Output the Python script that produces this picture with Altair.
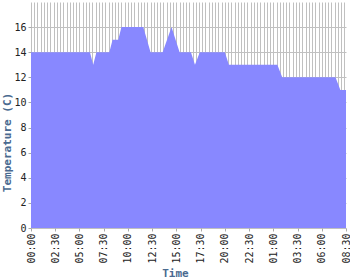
import altair as alt
import pandas as pd

# Temperature readings (breakpoints of the curve); day 1 then day 2
times = [
    "00:00", "06:05", "06:25", "06:45",
    "08:05", "08:25", "09:00", "09:20",
    "11:35", "12:20", "13:35", "14:30",
    "14:50", "15:20", "16:30", "16:55",
    "17:25", "20:00", "20:25", "01:25",
    "01:55", "07:25", "07:55", "08:30",
]
days = [
    1, 1, 1, 1,
    1, 1, 1, 1,
    1, 1, 1, 1,
    1, 1, 1, 1,
    1, 1, 1, 2,
    2, 2, 2, 2,
]
temps = [
    14, 14, 13, 14,
    14, 15, 15, 16,
    16, 14, 14, 16,
    15.2, 14, 14, 13,
    14, 14, 13, 13,
    12, 12, 11, 11,
]

tick_labels = ["00:00", "02:30", "05:00", "07:30", "10:00", "12:30", "15:00",
               "17:30", "20:00", "22:30", "01:00", "03:30", "06:00", "08:30"]
tick_days = [1, 1, 1, 1, 1, 1, 1, 1, 1, 1, 2, 2, 2, 2]
y_ticks = [0, 2, 4, 6, 8, 10, 12, 14, 16]


def to_min(hhmm, day):
    return (day - 1) * 1440 + int(hhmm[:2]) * 60 + int(hhmm[3:])


df = pd.DataFrame({"t": [to_min(t, d) for t, d in zip(times, days)], "temp": temps})

tick_vals = [to_min(l, d) for l, d in zip(tick_labels, tick_days)]
step = tick_vals[1] - tick_vals[0]
grid_vals = list(range(tick_vals[0], tick_vals[-1] + 1, 20))
label_expr = "[" + ",".join("'%s'" % l for l in tick_labels) + "][round(datum.value / %d)]" % step

GRID = "#c0c0c0"
TITLE_COLOR = "#4a6a90"
MONO = "DejaVu Sans Mono"

x_scale = alt.Scale(domain=[tick_vals[0], tick_vals[-1]], nice=False, zero=False)
y_scale = alt.Scale(domain=[0, 18], nice=False)

y_axis = alt.Axis(values=y_ticks, grid=True, gridColor=GRID, gridWidth=1,
                  labelFont=MONO, labelFontSize=10, labelColor="#222222",
                  labelPadding=2, tickColor="#aaaaaa", tickSize=3,
                  domain=False,
                  title="Temperature (C)", titleFont=MONO, titleFontSize=11,
                  titleFontWeight="bold", titleColor=TITLE_COLOR,
                  titleAngle=270, titleX=-24, titleY=140,
                  titleAlign="center", titleBaseline="middle")

base = alt.Chart(df)

grid_layer = base.mark_line(opacity=0).encode(
    x=alt.X("t:Q", scale=x_scale,
            axis=alt.Axis(orient="top", grid=True, gridColor=GRID, gridWidth=1,
                          values=grid_vals, labels=False, ticks=False,
                          domain=False, title=None)),
    y=alt.Y("temp:Q", scale=y_scale, axis=y_axis),
)

area = base.mark_area(color="#8888ff", opacity=1, interpolate="linear").encode(
    x=alt.X("t:Q", scale=x_scale,
            axis=alt.Axis(values=tick_vals, labelExpr=label_expr,
                          labelAngle=270, labelFont=MONO, labelFontSize=10,
                          labelColor="#222222", labelPadding=2, labelFlush=False,
                          labelOverlap=False, tickColor="#aaaaaa", tickSize=3,
                          domain=False, grid=False,
                          title="Time", titleFont=MONO, titleFontSize=11,
                          titleFontWeight="bold", titleColor=TITLE_COLOR,
                          titleX=144, titleY=45, titleAlign="center",
                          titleBaseline="middle")),
    y=alt.Y("temp:Q", scale=y_scale, axis=y_axis),
)

chart = alt.layer(grid_layer, area).resolve_axis(x="independent").properties(
    width=315,
    height=226,
    autosize=alt.AutoSizeParams(type="none"),
    padding={"left": 31, "top": 2, "right": 4, "bottom": 52},
    background="white",
).configure_view(strokeWidth=0)

chart.save("out.html", embed_options={"renderer": "svg", "actions": False})
